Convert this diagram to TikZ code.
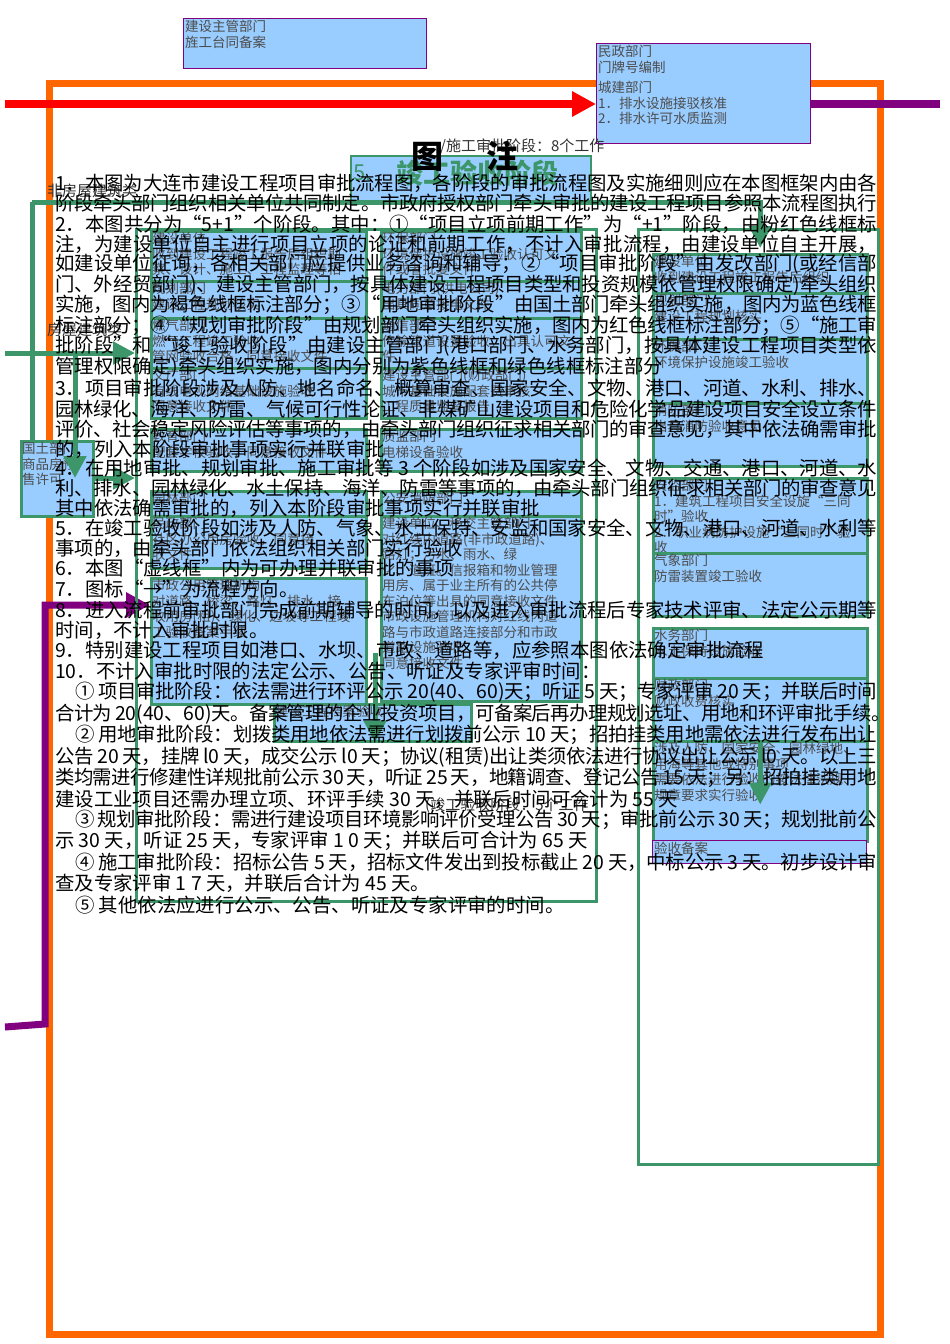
\documentclass[tikz,border=0pt]{standalone}
\usepackage{fontspec}
\setmainfont{Noto Sans CJK SC}
\usetikzlibrary{arrows.meta,positioning}
\pgfdeclarelayer{back}
\pgfsetlayers{back,main}
\definecolor{boxblue}{HTML}{99CCFF}
\definecolor{frameorange}{HTML}{FF6600}
\definecolor{flowgreen}{RGB}{60,150,105}
\definecolor{flowpurple}{HTML}{800080}
\definecolor{flowred}{HTML}{FF0000}
\XeTeXlinebreaklocale "zh"
\XeTeXlinebreakskip=0pt plus 3pt minus 0.6pt
\XeTeXlinebreakpenalty=10000

\begin{document}
\begin{tikzpicture}[x=1pt, y=-1pt,
    noteline/.style={anchor=west, inner sep=0pt, align=justify, font=\fontsize{19.4}{21}\selectfont},
    shortline/.style={anchor=west, inner sep=0pt, font=\fontsize{19.4}{21}\selectfont},
    bbox/.style={draw=flowgreen, line width=2.5pt, fill=boxblue, anchor=north west, inner sep=0pt},
    pbox/.style={draw=flowpurple, line width=1.2pt, fill=boxblue, anchor=north west, inner sep=0pt},
    btext/.style={anchor=north west, inner sep=2pt, align=left, text=black!70, font=\fontsize{13.5}{15.5}\selectfont},
    gframe/.style={draw=flowgreen, line width=3pt, anchor=north west, inner sep=0pt},
    gline/.style={draw=flowgreen, line width=5pt},
    gflow/.style={draw=flowgreen, line width=5pt, -{Triangle[length=22pt,width=22pt]}},
    tag/.style={anchor=west, inner sep=0pt, text=black!80, font=\fontsize{15}{17}\selectfont}
]
    \useasboundingbox (0,0) rectangle (950,1344);

    % stage header
    \node[draw=flowgreen, line width=1.5pt, fill=boxblue, anchor=north west, inner sep=0pt,
          minimum width=240pt, minimum height=45pt] (stage5) at (350,155) {};
    \node[anchor=west, inner sep=0pt, text=flowgreen, font=\fontsize{22}{24}\selectfont] (stage5n) at (353,173) {5.};
    \node[anchor=west, inner sep=0pt, text=flowgreen, font=\bfseries\fontsize{27}{30}\selectfont] (stage5t) at (396,173) {竣工验收阶段};

    % frames of the two flows
    \node[gframe, minimum width=460pt, minimum height=672pt] (accL) at (135,228) {};
    \node[gframe, minimum width=240pt, minimum height=935pt] (accR) at (637,228) {};

    % house building boxes
    \foreach \bn/\bx/\by/\bw/\bh/\bt in {
        c1a/150/230/215/50/{建设单位\\收到建设工程竣工报告后组织勘\\察、设计、施工、工程监理等相},
        c1b/150/280/215/37/{规划部门\\建设工程规划核实},
        c1c/150/317/215/50/{燃气部门\\燃气工程竣工验收\\管网验收合格，同意接收文件},
        c1d/150/367/215/50/{文广部门\\有线电视网络基础设施验收\\同意接收文件},
        c1e/150/428/215/42/{教育部门\\配套学校验收，同意接收文件},
        c1f/150/490/215/25/{园林部门},
        c1g/150/515/215/52/{民政部门\\社区办公用房验收，同意接\\收文件},
        c1h/150/577/215/126/{市政公用管理机构\\对道路、桥梁、路灯、排水、接\\收用房(租)、绿化、边坡等工程竣\\工验收备案手续},
        c2a/380/230/200/50/{环保部门\\环境保护设施竣工验收认可文\\件或者批复文件},
        c2b/380/280/200/37/{电力部门(供电公司)\\出具同意接电文件},
        c2c/380/317/200/50/{通信部门\\传输管道设置验收，出具认可文\\件},
        c2d/380/367/200/50/{建设主管部门(财政部门)\\城市基础设施配套费审核\\工程质量监督报告},
        c2e/380/428/200/42/{质监部门\\电梯设备验收},
        c2f/380/490/200/25/{公安消防部门},
        c2g/380/515/200/185/{建设单位、移交主管部门\\对红线内道路(非市政道路)、\\路灯；污水、雨水、绿\\化、道班。信报箱和物业管理\\用房、属于业主所有的公共停\\车泊位等出具的同意接收文件\\市政设施管理机构对红线内道\\路与市政道路连接部分和市政\\道路设施验收\\同意接收文件},
        c3/273/703/197/37/{建设工程档案验收}} {
        \node[bbox, minimum width=\bw pt, minimum height=\bh pt] (\bn) at (\bx,\by) {};
        \node[btext, text width=\bw pt] (\bn-t) at (\bn.north west) {\bt};
    }

    % non-house building boxes
    \foreach \bn/\bx/\by/\bw/\bh/\bt in {
        r1/652/253/214/39/{建设单位\\收到建设工程竣工报告后组织},
        r2/652/292/214/46/{规划部门\\建设工程规划核实},
        r3/652/338/214/64/{环保部门\\环境保护设施竣工验收},
        r4/652/402/214/63/{消防部门\\出具消防验收意见},
        r5/652/477/214/75/{安监部门\\1．建筑工程项目安全设旋“三同\\时”验收\\2．职业病防护设施“三同时”验\\收},
        r6/652/552/214/63/{气象部门\\防雷装置竣工验收},
        r7/652/627/214/50/{水务部门\\水土保持设施验收},
        r8/652/677/214/63/{财政部门\\财政收费核实},
        r9/652/740/214/100/{涉及人防、国家安全、园林绿地、\\用海等其他或特别事项\\需要依法进行验收的按法律法规、\\规章要求实行验收},
        gt/20/440/72/75/{国土部门\\商品房预\\售许可}} {
        \node[bbox, minimum width=\bw pt, minimum height=\bh pt] (\bn) at (\bx,\by) {};
        \node[btext, text width=\bw pt] (\bn-t) at (\bn.north west) {\bt};
    }
    \node[pbox, minimum width=214pt, minimum height=23pt] (r10) at (652,840) {};
    \node[btext] (r10-t) at (r10.north west) {验收备案};

    % boxes above the frame
    \node[pbox, minimum width=243pt, minimum height=50pt] (zg) at (183,18) {};
    \node[btext] (zg-t) at (zg.north west) {建设主管部门\\旌工台同备案};
    \node[pbox, minimum width=214pt, minimum height=100pt] (mz) at (596,43) {};
    \node[btext] (mz-t) at (mz.north west) {民政部门\\门牌号编制\\[5pt]城建部门\\1．排水设施接驳核准\\2．排水许可水质监测};

    % green arrows over the boxes
    \coordinate (mdrop) at (375,653);
    \draw[gflow] (mdrop) -- (mdrop |- c3.south);
    \draw[gflow] (r8.south) -- ++(0,62);

    % frame, flows and lines below
    \begin{pgfonlayer}{back}
        \fill[white] (0,0) rectangle (950,1344);
        \draw[frameorange, line width=7pt] (49,83) rectangle (880,1334);
        \coordinate (gtop) at (32,202);
        \draw[gflow, shorten >=5pt] (gtop) -| (r1.north);
        \draw[gline] (gtop) -- (gtop |- gt.north);
        \coordinate (lin) at (5,353);
        \coordinate (lsplit) at (75,353);
        \coordinate (ldrop) at (75,478);
        \draw[gflow] (lin) -- (lin -| accL.west);
        \coordinate (rin) at (5,104);
        \coordinate (pout) at (940,104);
        \draw[flowred, line width=8pt, -{Triangle[length=24pt,width=24pt]}] (rin) -- (rin -| mz.west);
        \draw[flowpurple, line width=8pt] (pout -| mz.east) -- (pout);
        \coordinate (pin) at (5,1027);
        \coordinate (pfoot) at (45,1024);
        \coordinate (pbend) at (45,605);
        \draw[flowpurple, line width=7pt, -{Triangle[length=24pt,width=24pt]}] (pin) -- (pfoot) -- (pbend) -- (pbend -| c1h.west);
    \end{pgfonlayer}
    \draw[gflow] (lsplit) -- (ldrop);
    \draw[gflow] (gt.east |- ldrop) -- (ldrop -| accL.west);

    % small labels
    \node[tag] (house0) at (47,191) {非房屋建筑类};
    \node[tag] (house1) at (47,330) {房屋建筑类};
    \node[tag] (days8) at (440,146) {/施工审批阶段：8个工作};
    \node[tag] (days5) at (425,806) {(竣工验收阶段：5个工作};

    % title
    \node[inner sep=0pt, font=\bfseries\fontsize{32}{34}\selectfont] (title) at (465,156) {图\hspace{43pt}注};

    % notes, full lines
    \foreach \lx/\rx/\ly/\lt in {
        55/877/183/{1．本图为大连市建设工程项目审批流程图，各阶段的审批流程图及实施细则应在本图框架内由各},
        55/877/203/{阶段牵头部门组织相关单位共同制定。市政府授权部门牵头审批的建设工程项目参照本流程图执行},
        55/877/224/{2．本图共分为“5+1”个阶段。其中：①“项目立项前期工作”为“+1”阶段，由粉红色线框标},
        55/877/244/{注，为建设单位自主进行项目立项的论证和前期工作，不计入审批流程，由建设单位自主开展，},
        55/877/264/{如建设单位征询，各相关部门应提供业务咨询和辅导；②“项目审批阶段”由发改部门(或经信部},
        55/877/285/{门、外经贸部门)、建设主管部门，按具体建设工程项目类型和投资规模依管理权限确定)牵头组织},
        55/877/305/{实施，图内为褐色线框标注部分；③“用地审批阶段”由国土部门牵头组织实施，图内为蓝色线框},
        55/877/326/{标注部分；④“规划审批阶段”由规划部门牵头组织实施，图内为红色线框标注部分；⑤“施工审},
        55/877/346/{批阶段”和“竣工验收阶段”由建设主管部门(港口部门、水务部门，按具体建设工程项目类型依},
        55/877/388/{3．项目审批阶段涉及人防、地名命名、概算审查、国家安全、文物、港口、河道、水利、排水、},
        55/877/409/{园林绿化、海洋、防雷、气候可行性论证、非煤矿山建设项目和危险化学品建设项目安全设立条件},
        55/877/429/{评价、社会稳定风险评估等事项的，由牵头部门组织征求相关部门的审查意见，其中依法确需审批},
        55/877/468/{4．在用地审批、规划审批、施工审批等~3~个阶段如涉及国家安全、文物、交通、港口、河道、水},
        55/877/488/{利、排水、园林绿化、水土保持、海洋、防雷等事项的，由牵头部门组织征求相关部门的审查意见},
        55/877/528/{5．在竣工验收阶段如涉及人防、气象、水土保持、安监和国家安全、文物、港口、河道、水利等},
        55/877/610/{8．进入流程前审批部门完成前期辅导的时间，以及进入审批流程后专家技术评审、法定公示期等},
        75/877/692/{①~项目审批阶段：依法需进行环评公示~20(40、60)天；听证~5~天；专家评审~20~天；并联后时间},
        55/882/714/{合计为~20(40、60)天。备案管理的企业投资项目，可备案后再办理规划选址、用地和环评审批手续。},
        75/877/735/{②~用地审批阶段：划拨类用地依法需进行划拨前公示~10~天；招拍挂类用地需依法进行发布出让},
        55/877/757/{公告~20~天，挂牌~l0~天，成交公示~l0~天；协议(租赁)出让类须依法进行协议出让公示~l0~天。以上三},
        55/877/778/{类均需进行修建性详规批前公示~30~天，听证~25~天，地籍调查、登记公告~15~天；另：招拍挂类用地},
        75/877/820/{③~规划审批阶段：需进行建设项目环境影响评价受理公告~30~天；审批前公示~30~天；规划批前公},
        75/877/862/{④~施工审批阶段：招标公告~5~天，招标文件发出到投标截止~20~天，中标公示~3~天。初步设计审}} {
        \pgfmathsetmacro{\lw}{\rx-\lx}
        \node[noteline, text width=\lw pt] (note\ly) at (\lx,\ly) {\noindent\parfillskip=0pt\relax\lt\par};
    }

    % notes, last lines of paragraphs
    \foreach \sx/\sy/\st in {
        55/367/{管理权限确定)牵头组织实施，图内分别为紫色线框和绿色线框标注部分},
        55/449/{的，列入本阶段审批事项实行并联审批},
        55/508/{其中依法确需审批的，列入本阶段审批事项实行并联审批},
        55/548/{事项的，由牵头部门依法组织相关部门实行验收},
        55/568/{6．本图“虚线框”内为可办理并联审批的事项},
        55/589/{7．图标“→”为流程方向。},
        55/630/{时间，不计入审批时限。},
        55/650/{9．特别建设工程项目如港口、水坝、市政、道路等，应参照本图依法确定审批流程},
        55/671/{10．不计入审批时限的法定公示、公告、听证及专家评审时间：},
        55/799/{建设工业项目还需办理立项、环评手续~30~天，并联后时间可合计为~55~天},
        55/841/{示~30~天，听证~25~天，专家评审~1~0~天；并联后可合计为~65~天},
        55/883/{查及专家评审~1~7~天，并联后合计为~45~天。},
        75/905/{⑤~其他依法应进行公示、公告、听证及专家评审的时间。}} {
        \node[shortline] (note\sy) at (\sx,\sy) {\st};
    }
\end{tikzpicture}
\end{document}
